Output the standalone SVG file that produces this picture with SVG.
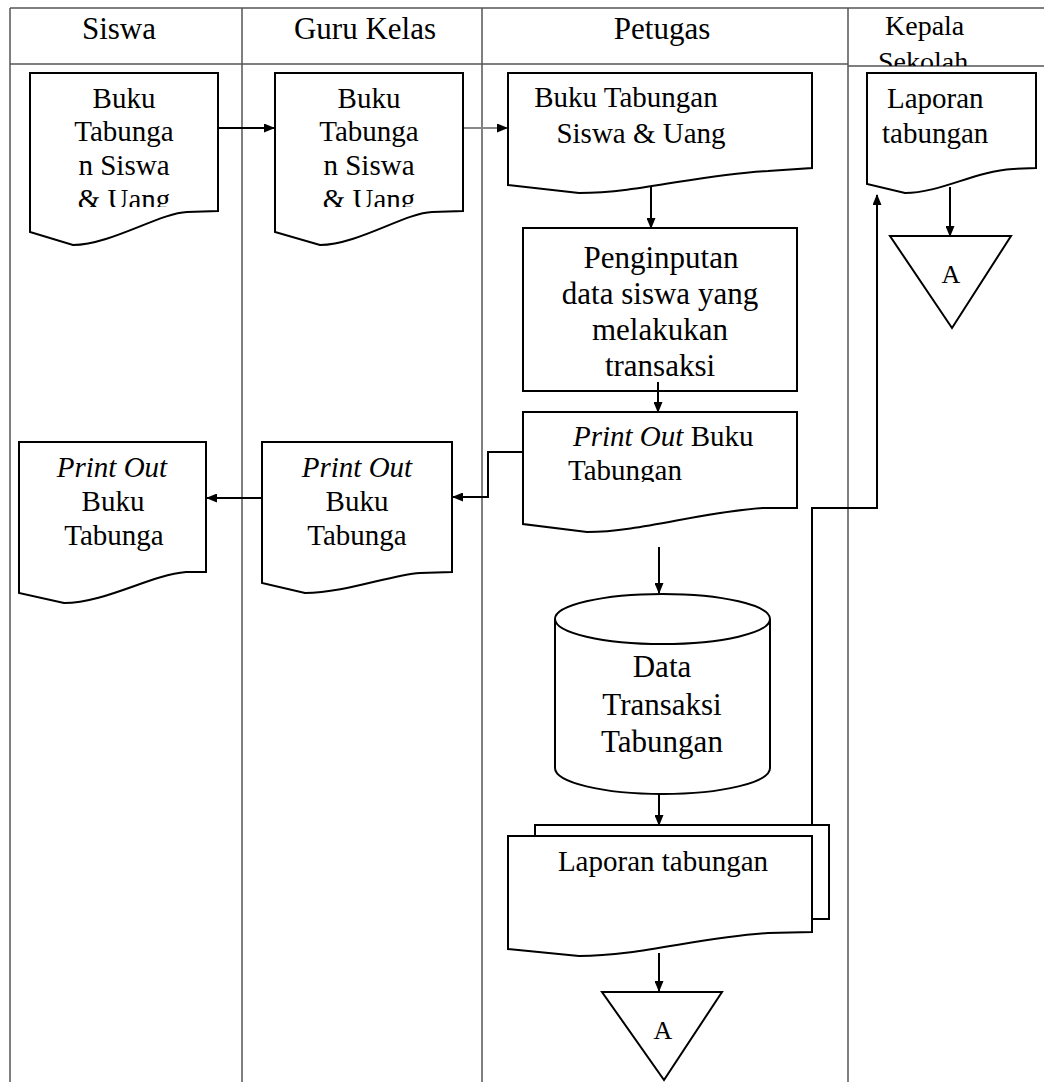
<svg xmlns="http://www.w3.org/2000/svg" width="1044" height="1082" viewBox="0 0 1044 1082">
<style>
.tbl{stroke:#555;stroke-width:1.5;fill:none}
.shp{stroke:#000;stroke-width:2;fill:#fff}
.ln{stroke:#000;stroke-width:2;fill:none}
.t{font-family:"Liberation Serif","Times New Roman",serif;fill:#000;text-anchor:middle}
.h{font-size:31px}
.b{font-size:29px}
.p{font-size:31px}
.a{font-size:26px}
.s{text-anchor:start}
</style>
<defs>
<marker id="arr" markerUnits="userSpaceOnUse" markerWidth="11" markerHeight="9" refX="10" refY="4.5" orient="auto">
<path d="M0,0 L11,4.5 L0,9 Z" fill="#000"/>
</marker>
<clipPath id="c1"><rect x="0" y="0" width="1044" height="207"/></clipPath>
<clipPath id="c2"><rect x="0" y="0" width="1044" height="482"/></clipPath>
<clipPath id="c3"><rect x="0" y="0" width="1044" height="66"/></clipPath>
</defs>
<rect width="1044" height="1082" fill="#fff"/>
<g id="table">
<line class="tbl" x1="10" y1="8" x2="1044" y2="8"/>
<line class="tbl" x1="10" y1="64" x2="848" y2="64"/>
<line class="tbl" x1="848" y1="66" x2="1044" y2="66"/>
<line class="tbl" x1="10" y1="8" x2="10" y2="1082"/>
<line class="tbl" x1="242" y1="8" x2="242" y2="1082"/>
<line class="tbl" x1="482" y1="8" x2="482" y2="1082"/>
<line class="tbl" x1="848" y1="8" x2="848" y2="1082"/>
<text class="t h" x="119" y="39">Siswa</text>
<text class="t h" x="365" y="39">Guru Kelas</text>
<text class="t h" x="662" y="39">Petugas</text>
<text class="t s" style="font-size:28px" x="885" y="35">Kepala</text>
<text class="t s" style="font-size:28px" x="878" y="71" clip-path="url(#c3)">Sekolah</text>
</g>
<g id="connectors">
<line class="ln" x1="218" y1="128" x2="274" y2="128" marker-end="url(#arr)"/>
<line class="ln" x1="463" y1="128" x2="507" y2="128" style="stroke:#888" marker-end="url(#arr)"/>
<line class="ln" x1="651" y1="187" x2="651" y2="228" marker-end="url(#arr)"/>
<line class="ln" x1="658" y1="382" x2="658" y2="412" marker-end="url(#arr)"/>
<polyline class="ln" points="523,452 488,452 488,497 453,497" marker-end="url(#arr)"/>
<line class="ln" x1="262" y1="498" x2="207" y2="498" marker-end="url(#arr)"/>
<line class="ln" x1="659" y1="547" x2="659" y2="593" marker-end="url(#arr)"/>
<line class="ln" x1="659" y1="794" x2="659" y2="825" marker-end="url(#arr)"/>
<polyline class="ln" points="812,825 812,508 877,508 877,195" marker-end="url(#arr)"/>
<line class="ln" x1="950" y1="187" x2="950" y2="236" marker-end="url(#arr)"/>
<line class="ln" x1="659" y1="953" x2="659" y2="991" marker-end="url(#arr)"/>
</g>
<g id="doc-siswa-buku">
<path class="shp" d="M30,73 H218 V211 L187,212 C160,213 110,245 73,245 L30,232 Z"/>
<g clip-path="url(#c1)">
<text class="t b" x="124" y="108">Buku</text>
<text class="t b" x="124" y="141">Tabunga</text>
<text class="t b" x="124" y="175">n Siswa</text>
<text class="t b" x="124" y="209">&amp; Uang</text>
</g>
</g>
<g id="doc-guru-buku">
<path class="shp" d="M275,73 H463 V211 L432,212 C405,213 357,245 320,245 L275,232 Z"/>
<g clip-path="url(#c1)">
<text class="t b" x="369" y="108">Buku</text>
<text class="t b" x="369" y="141">Tabunga</text>
<text class="t b" x="369" y="175">n Siswa</text>
<text class="t b" x="369" y="209">&amp; Uang</text>
</g>
</g>
<g id="doc-petugas-buku">
<path class="shp" d="M508,73 H812 V168 L768,171 C700,174 640,193 579,193 L508,185 Z"/>
<text class="t b" x="626" y="107">Buku Tabungan</text>
<text class="t b" x="641" y="143">Siswa &amp; Uang</text>
</g>
<g id="process-input">
<rect class="shp" x="523" y="228" width="274" height="163"/>
<text class="t p" x="661" y="268">Penginputan</text>
<text class="t p" x="660" y="304">data siswa yang</text>
<text class="t p" x="660" y="340">melakukan</text>
<text class="t p" x="660" y="376">transaksi</text>
</g>
<line class="ln" x1="658" y1="382" x2="658" y2="391"/>
<g id="doc-petugas-printout">
<path class="shp" d="M523,412 H797 V508 L763,508 C700,512 640,532 587,532 L523,524 Z"/>
<g clip-path="url(#c2)">
<text class="t b s" x="573" y="446"><tspan font-style="italic">Print Out</tspan> Buku</text>
<text class="t b s" x="568" y="480">Tabungan</text>
</g>
</g>
<g id="doc-guru-printout">
<path class="shp" d="M262,442 H452 V572 L420,573 C390,575 345,593 305,593 L262,583 Z"/>
<text class="t b" x="357" y="477" font-style="italic">Print Out</text>
<text class="t b" x="357" y="511">Buku</text>
<text class="t b" x="357" y="545">Tabunga</text>
</g>
<g id="doc-siswa-printout">
<path class="shp" d="M19,442 H206 V572 L186,572 C150,575 105,603 64,603 L19,593 Z"/>
<text class="t b" x="112" y="477" font-style="italic">Print Out</text>
<text class="t b" x="113" y="511">Buku</text>
<text class="t b" x="114" y="545">Tabunga</text>
</g>
<g id="db-transaksi">
<path class="shp" d="M555,619 A107.5,25 0 0 1 770,619 V768 A107.5,26 0 0 1 555,768 Z"/>
<path class="ln" d="M555,619 A107.5,25 0 0 0 770,619"/>
<text class="t p" x="662" y="677">Data</text>
<text class="t p" x="662" y="715">Transaksi</text>
<text class="t p" x="662" y="752">Tabungan</text>
</g>
<g id="doc-laporan-petugas">
<rect class="shp" x="535" y="825" width="294" height="94"/>
<path class="shp" d="M508,836 H812 V932 L768,933 C700,937 640,956 579,956 L508,949 Z"/>
<text class="t b" x="663" y="871">Laporan tabungan</text>
</g>
<g id="doc-laporan-kepala">
<path class="shp" d="M867,73 H1036 V168 L1013,169 C975,171 940,193 905,193 L867,184 Z"/>
<text class="t b s" x="887" y="108">Laporan</text>
<text class="t b s" x="882" y="143">tabungan</text>
</g>
<g id="connector-a-kepala">
<path class="shp" d="M890,236 L1011,236 L952,328 Z"/>
<text class="t a" x="951" y="283">A</text>
</g>
<g id="connector-a-petugas">
<path class="shp" d="M602,992 L722,992 L664,1080 Z"/>
<text class="t a" x="663" y="1039">A</text>
</g>
</svg>
